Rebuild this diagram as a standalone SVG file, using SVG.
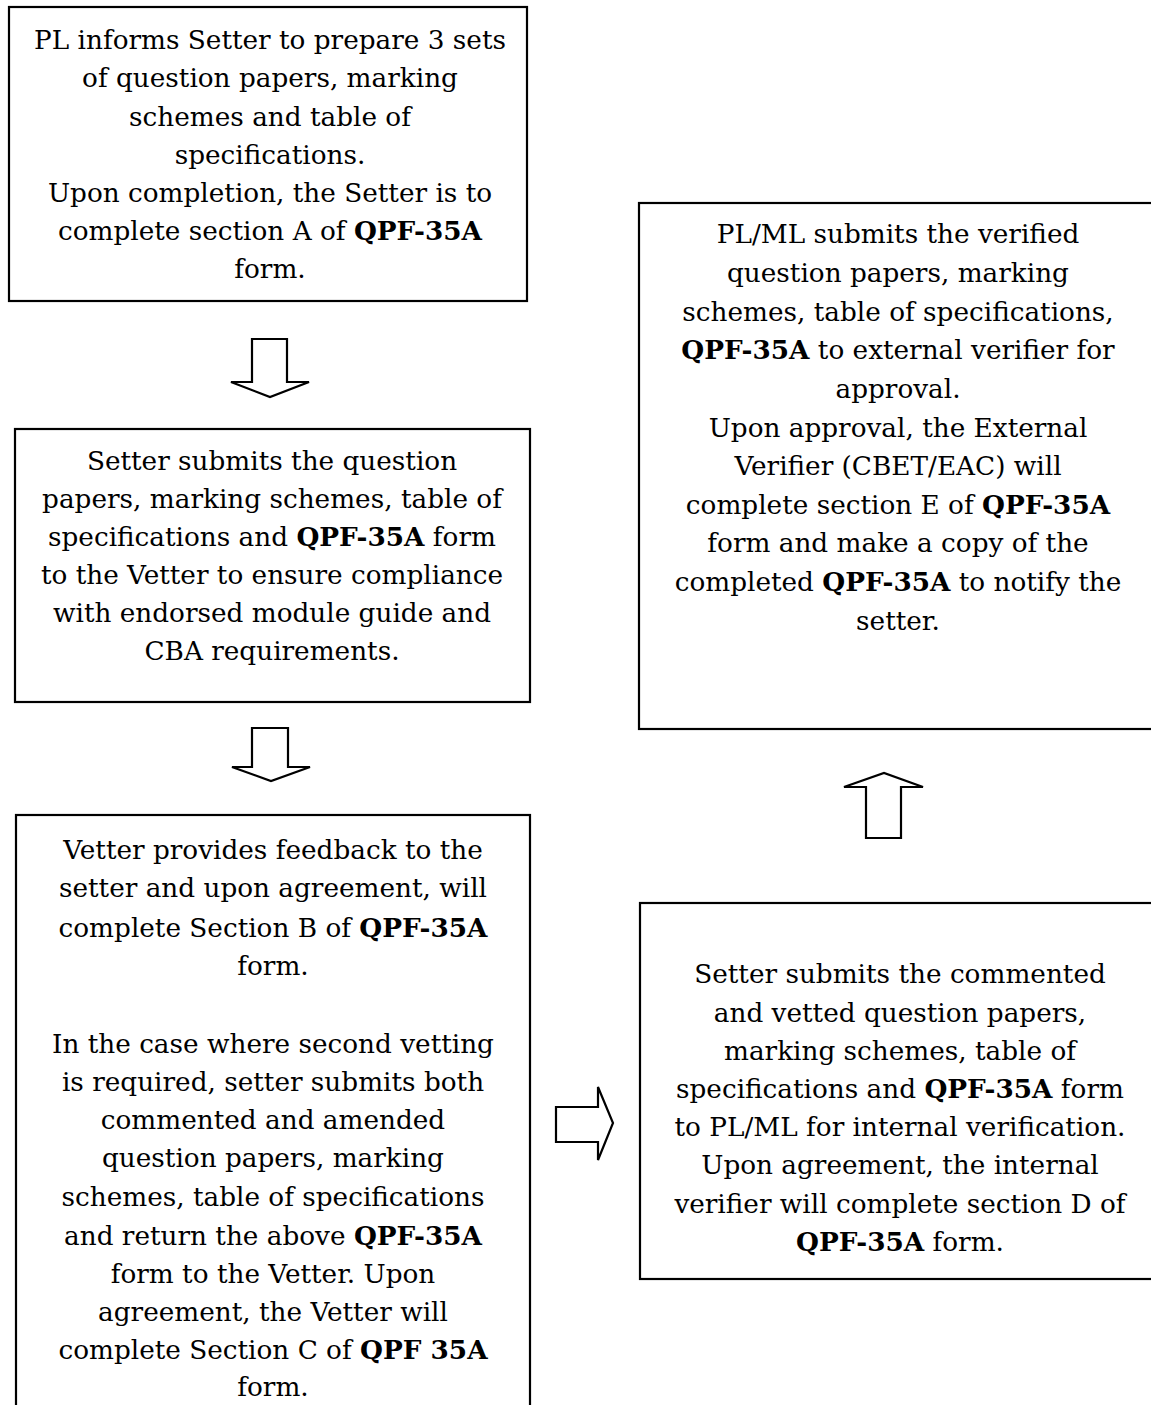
<svg xmlns="http://www.w3.org/2000/svg" width="1151" height="1405" viewBox="0 0 1151 1405">
<style>
.box{fill:#fff;stroke:#000;stroke-width:2.2}
.t{font-family:"DejaVu Serif","Liberation Serif",serif;font-size:26.3px;fill:#000;text-anchor:middle}
.b{font-weight:bold}
.arr{fill:#fff;stroke:#000;stroke-width:2.2;stroke-linejoin:miter}
</style>
<rect width="1151" height="1405" fill="#fff"/>
<g id="node1">
<rect class="box" x="9" y="7" width="518" height="294"/>
<text class="t" x="270" y="49">PL informs Setter to prepare 3 sets</text>
<text class="t" x="270" y="87">of question papers, marking</text>
<text class="t" x="270" y="126">schemes and table of</text>
<text class="t" x="270" y="164">specifications.</text>
<text class="t" x="270" y="202">Upon completion, the Setter is to</text>
<text class="t" x="270" y="240">complete section A of <tspan class="b">QPF-35A</tspan></text>
<text class="t" x="270" y="278">form.</text>
</g>
<g id="node2">
<rect class="box" x="15" y="429" width="515" height="273"/>
<text class="t" x="272" y="470">Setter submits the question</text>
<text class="t" x="272" y="508">papers, marking schemes, table of</text>
<text class="t" x="272" y="546">specifications and <tspan class="b">QPF-35A</tspan> form</text>
<text class="t" x="272" y="584">to the Vetter to ensure compliance</text>
<text class="t" x="272" y="622">with endorsed module guide and</text>
<text class="t" x="272" y="660">CBA requirements.</text>
</g>
<g id="node3">
<rect class="box" x="16" y="815" width="514" height="610"/>
<text class="t" x="273" y="859">Vetter provides feedback to the</text>
<text class="t" x="273" y="897">setter and upon agreement, will</text>
<text class="t" x="273" y="937">complete Section B of <tspan class="b">QPF-35A</tspan></text>
<text class="t" x="273" y="975">form.</text>
<text class="t" x="273" y="1053">In the case where second vetting</text>
<text class="t" x="273" y="1091">is required, setter submits both</text>
<text class="t" x="273" y="1129">commented and amended</text>
<text class="t" x="273" y="1167">question papers, marking</text>
<text class="t" x="273" y="1206">schemes, table of specifications</text>
<text class="t" x="273" y="1245">and return the above <tspan class="b">QPF-35A</tspan></text>
<text class="t" x="273" y="1283">form to the Vetter. Upon</text>
<text class="t" x="273" y="1321">agreement, the Vetter will</text>
<text class="t" x="273" y="1359">complete Section C of <tspan class="b">QPF 35A</tspan></text>
<text class="t" x="273" y="1396">form.</text>
</g>
<g id="node4">
<rect class="box" x="639" y="203" width="530" height="526"/>
<text class="t" x="898" y="243">PL/ML submits the verified</text>
<text class="t" x="898" y="282">question papers, marking</text>
<text class="t" x="898" y="321">schemes, table of specifications,</text>
<text class="t" x="898" y="359"><tspan class="b">QPF-35A</tspan> to external verifier for</text>
<text class="t" x="898" y="398">approval.</text>
<text class="t" x="898" y="437">Upon approval, the External</text>
<text class="t" x="898" y="475">Verifier (CBET/EAC) will</text>
<text class="t" x="898" y="514">complete section E of <tspan class="b">QPF-35A</tspan></text>
<text class="t" x="898" y="552">form and make a copy of the</text>
<text class="t" x="898" y="591">completed <tspan class="b">QPF-35A</tspan> to notify the</text>
<text class="t" x="898" y="630">setter.</text>
</g>
<g id="node5">
<rect class="box" x="640" y="903" width="530" height="376"/>
<text class="t" x="900" y="983">Setter submits the commented</text>
<text class="t" x="900" y="1022">and vetted question papers,</text>
<text class="t" x="900" y="1060">marking schemes, table of</text>
<text class="t" x="900" y="1098">specifications and <tspan class="b">QPF-35A</tspan> form</text>
<text class="t" x="900" y="1136">to PL/ML for internal verification.</text>
<text class="t" x="900" y="1174">Upon agreement, the internal</text>
<text class="t" x="900" y="1213">verifier will complete section D of</text>
<text class="t" x="900" y="1251"><tspan class="b">QPF-35A</tspan> form.</text>
</g>
<g id="connectors">
<polygon class="arr" points="252,339 287,339 287,382 309,382 270,397 231,382 252,382"/>
<polygon class="arr" points="252,728 288,728 288,767 310,767 271,781 232,767 252,767"/>
<polygon class="arr" points="556,1107 598,1107 598,1087 613,1123 598,1160 598,1142 556,1142"/>
<polygon class="arr" points="866,838 901,838 901,787 923,787 884,773 844,787 866,787"/>
</g>
</svg>
